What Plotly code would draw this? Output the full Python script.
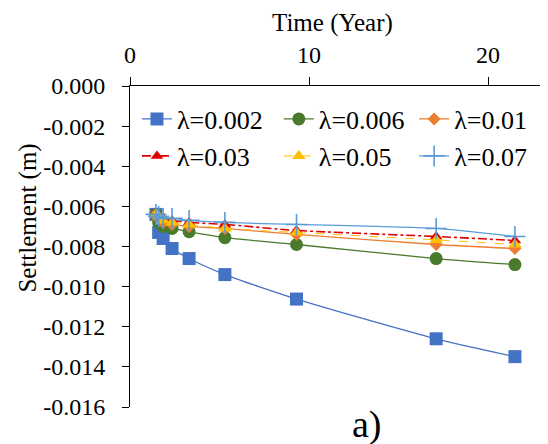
import plotly.graph_objects as go

# Data
time_years = [1.45, 1.6, 1.85, 2.35, 3.3, 5.3, 9.3, 17.1, 21.5]
s_0002 = [-0.0064, -0.0073, -0.0076, -0.0081, -0.0086, -0.0094, -0.01062, -0.0126, -0.01349]
s_0006 = [-0.0064, -0.0068, -0.0070, -0.0071, -0.00726, -0.00756, -0.0079, -0.0086, -0.0089]
s_001 = [-0.0064, -0.0066, -0.0068, -0.0069, -0.0070, -0.0071, -0.0074, -0.0079, -0.0081]
s_003 = [-0.0064, -0.0065, -0.0066, -0.0067, -0.0068, -0.0069, -0.0072, -0.0075, -0.0077]
s_005 = [-0.0064, -0.0065, -0.0067, -0.0068, -0.0069, -0.0071, -0.0073, -0.00767, -0.0079]
s_007 = [-0.0064, -0.0065, -0.0066, -0.0066, -0.0067, -0.0068, -0.0069, -0.0071, -0.0075]
labels = ["λ=0.002", "λ=0.006", "λ=0.01", "λ=0.03", "λ=0.05", "λ=0.07"]
y_ticks = [0, -0.002, -0.004, -0.006, -0.008, -0.010, -0.012, -0.014, -0.016]
x_ticks = [0, 10, 20]

FONT = "Times New Roman, Liberation Serif, serif"

fig = go.Figure()
styles = [
    (s_0002, "#4472C4", "solid", 1.3, "square", 13),
    (s_0006, "#4A7A2C", "solid", 1.3, "circle", 13),
    (s_001, "#ED7D31", "solid", 1.3, "diamond", 10),
    (s_003, "#E00000", "dashdot", 1.6, "triangle-up", 11),
    (s_005, "#FFC000", "dash", 1.0, "triangle-up", 12),
    (s_007, "#5B9BD5", "solid", 1.3, "cross-thin", 15),
]
legend_names = ["legend", "legend2", "legend3", "legend4", "legend5", "legend6"]
for (vals, col, dash, lw, sym, sz), name, lg in zip(styles, labels, legend_names):
    fig.add_trace(go.Scatter(
        x=time_years, y=vals, name=name, mode="lines+markers",
        line=dict(color=col, width=lw, dash=dash, shape="spline", smoothing=0.6),
        marker=dict(symbol=sym, size=sz, color=col,
                    line=dict(color=col, width=1.6 if sym == "cross-thin" else 0)),
        legend=lg,
    ))

leg_common = dict(orientation="h", xanchor="left", yanchor="middle",
                  bgcolor="rgba(0,0,0,0)", font=dict(size=26, family=FONT),
                  itemwidth=30)
leg_x = [0.017, 0.363, 0.693]
leg_y = [0.897, 0.782]
legend_layout = {}
for i, lg in enumerate(legend_names):
    legend_layout[lg] = dict(x=leg_x[i % 3], y=leg_y[i // 3], **leg_common)

fig.update_layout(
    width=548, height=444,
    margin=dict(l=130, r=8, t=86, b=37),
    paper_bgcolor="white", plot_bgcolor="white",
    font=dict(family=FONT, size=24, color="black"),
    showlegend=True,
    **legend_layout,
    xaxis=dict(side="top", range=[0, 22.9], tickvals=x_ticks, ticktext=[str(v) for v in x_ticks],
               showline=True, linecolor="black", linewidth=1, ticks="outside", ticklen=8,
               tickcolor="black", showgrid=False, zeroline=False,
               tickfont=dict(size=24, family=FONT), ticklabelstandoff=4),
    yaxis=dict(range=[-0.016, 0], tickvals=y_ticks, ticktext=[f"{v:.3f}" for v in y_ticks],
               showline=True, linecolor="black", linewidth=1, ticks="outside", ticklen=7,
               tickcolor="black", showgrid=False, zeroline=False,
               tickfont=dict(size=24, family=FONT), ticklabelstandoff=12),
    annotations=[
        dict(text="Time (Year)", x=0.495, y=1, xref="paper", yref="paper",
             xanchor="center", yanchor="middle",
             yshift=63, showarrow=False, font=dict(size=25, family=FONT)),
        dict(text="Settlement (m)", x=0, y=0.587, xref="paper", yref="paper",
             xanchor="center", yanchor="middle",
             xshift=-102, textangle=-90, showarrow=False, font=dict(size=25, family=FONT)),
        dict(text="a)", x=0.578, y=0, xref="paper", yref="paper",
             xanchor="center", yanchor="middle",
             yshift=-17, showarrow=False, font=dict(size=38, family=FONT)),
    ],
)

fig.write_html("out.html")
